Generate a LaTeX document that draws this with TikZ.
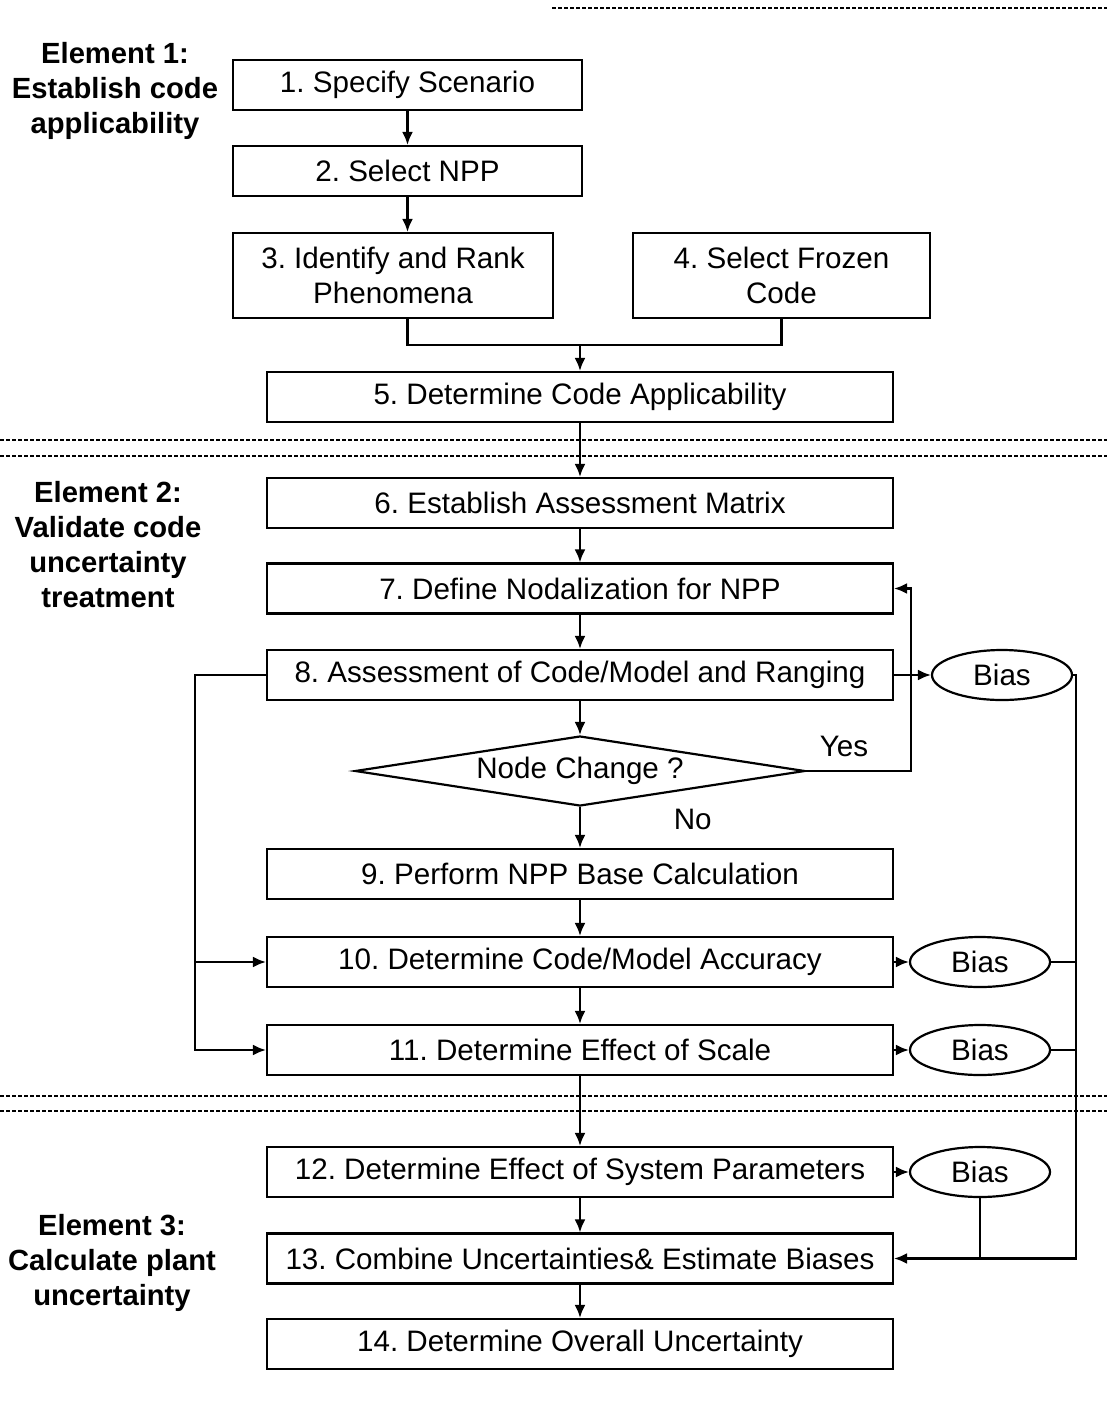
\documentclass[tikz,border=0pt]{standalone}
\usepackage{fontspec}
\setmainfont{Liberation Sans}
\usetikzlibrary{arrows.meta, shapes.geometric}
\frenchspacing

\begin{document}
\begin{tikzpicture}[x=0.5pt, y=-0.5pt, ->, >={Latex[length=6.5pt,width=5.5pt]}, line width=1.1pt,
    task/.style={rectangle, draw, minimum width=313pt, minimum height=25pt, inner sep=2pt, align=center, font=\fontsize{14.8}{17.5}\selectfont},
    bias/.style={ellipse, draw, minimum width=70pt, minimum height=25pt, inner sep=0pt, font=\fontsize{14.8}{17.5}\selectfont},
    elem/.style={align=center, inner sep=0pt, font=\fontsize{14.6}{17.5}\selectfont\bfseries},
    sep/.style={-, line width=0.6pt, dash pattern=on 2pt off 1pt}]

    \useasboundingbox (0,0) rectangle (1107,1420);

    % element 1
    \node[task, minimum width=174.5pt] (b1) at (407.5,85) {1. Specify Scenario};
    \node[task, minimum width=174.5pt] (b2) at (407.5,171) {2. Select NPP};
    \node[task, minimum width=160pt, minimum height=42.5pt] (b3) at (393,275.5) {3. Identify and Rank\\Phenomena};
    \node[task, minimum width=148.5pt, minimum height=42.5pt] (b4) at (781.5,275.5) {4. Select Frozen\\Code};
    \node[task] (b5) at (580,397) {5. Determine Code Applicability};
    \coordinate (m) at (580,345);

    % element 2
    \node[task] (b6) at (580,503) {6. Establish Assessment Matrix};
    \node[task] (b7) at (580,588.5) {7. Define Nodalization for NPP};
    \node[task] (b8) at (580,675) {8. Assessment of Code/Model and Ranging};
    \node[diamond, draw, aspect=6.4, inner sep=0pt, minimum width=225pt, minimum height=35pt,
          font=\fontsize{14.8}{17.5}\selectfont] (dec) at (580,771) {Node Change ?};
    \node[task] (b9) at (580,874) {9. Perform NPP Base Calculation};
    \node[task] (b10) at (580,962) {10. Determine Code/Model Accuracy};
    \node[task] (b11) at (580,1050) {11. Determine Effect of Scale};

    % element 3
    \node[task] (b12) at (580,1172) {12. Determine Effect of System Parameters};
    \node[task] (b13) at (580,1258.5) {13. Combine Uncertainties\& Estimate Biases};
    \node[task] (b14) at (580,1344) {14. Determine Overall Uncertainty};

    \node[bias] (bias8) at (1002,675) {Bias};
    \node[bias] (bias10) at (980,962) {Bias};
    \node[bias] (bias11) at (980,1050) {Bias};
    \node[bias] (bias12) at (980,1172) {Bias};
    \coordinate (j) at (1076,1258.5);
    \coordinate (l) at (195,1050);

    \node[elem] (e1) at (115,91) {Element 1:\\Establish code\\applicability};
    \node[elem] (e2) at (108,545) {Element 2:\\Validate code\\uncertainty\\treatment};
    \node[elem] (e3) at (112,1263) {Element 3:\\Calculate plant\\uncertainty};

    % separators
    \draw[sep] (552,8) -- (1107,8);
    \draw[sep] (0,440) -- (1107,440);
    \draw[sep] (0,456) -- (1107,456);
    \draw[sep] (0,1096) -- (1107,1096);
    \draw[sep] (0,1111) -- (1107,1111);

    % main flow
    \draw (b1) -- (b2);
    \draw (b2.south) -- (b3.north -| b2.south);
    \draw[-] (b3.south -| b2.south) |- (m) -| (b4.south);
    \draw (m) -- (b5);
    \draw (b5) -- (b6);
    \draw (b6) -- (b7);
    \draw (b7) -- (b8);
    \draw (b8) -- (dec);
    \draw (dec) -- node[pos=0.3, right=43pt, font=\fontsize{14.8}{17.5}\selectfont] {No} (b9);
    \draw (b9) -- (b10);
    \draw (b10) -- (b11);
    \draw (b11) -- (b12);
    \draw (b12) -- (b13);
    \draw (b13) -- (b14);

    % node change loop
    \draw (dec.east) -- ++(105,0) node[pos=0.36, above=3pt, font=\fontsize{14.8}{17.5}\selectfont] {Yes} |- (b7.east);

    % biases
    \draw (b8) -- (bias8);
    \draw (b10) -- (bias10);
    \draw (b11) -- (bias11);
    \draw (b12) -- (bias12);
    \draw (bias8.east) -| (j) -- (b13.east);
    \draw[-] (bias10.east) -- (bias10.east -| j);
    \draw[-] (bias11.east) -- (bias11.east -| j);
    \draw[-] (bias12.south) -- (bias12.south |- j);

    % assessment feeds
    \draw (b8.west) -| (l) -- (b11.west);
    \draw (b10.west -| l) -- (b10.west);
\end{tikzpicture}
\end{document}
